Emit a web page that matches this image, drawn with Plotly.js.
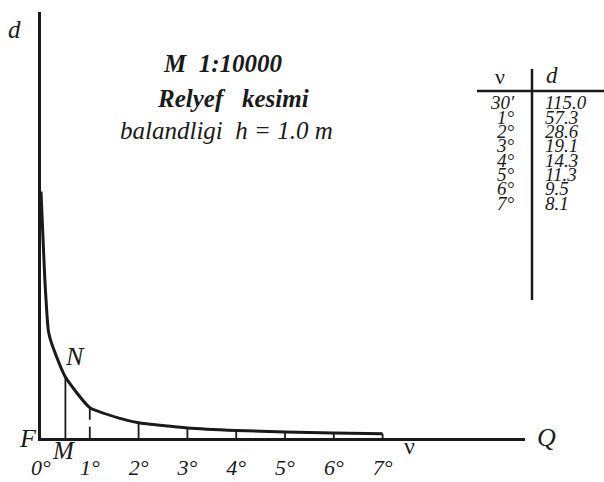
<!DOCTYPE html>
<html>
<head>
<meta charset="utf-8">
<script src="https://cdn.plot.ly/plotly-3.0.1.min.js"></script>
<style>html,body{margin:0;padding:0;background:#fff;}#chart{width:604px;height:482px;}</style>
</head>
<body>
<div id="chart"></div>
<script>
// ---- data ----
// table of inclination angle (nu) vs laying distance d
const tableNuText = ["30′", "1°", "2°", "3°", "4°", "5°", "6°", "7°"];
const tableNuDeg  = [0.5, 1, 2, 3, 4, 5, 6, 7];
const tableD      = [115.0, 57.3, 28.6, 19.1, 14.3, 11.3, 9.5, 8.1];
const tableDText  = ["115.0", "57.3", "28.6", "19.1", "14.3", "11.3", "9.5", "8.1"];
// upper part of the curve (before 30′)
const topNu = [0.0, 0.035, 0.08, 0.15, 0.18, 0.27];
const topD  = [465, 390, 297, 203, 190, 165];
// a point read between 1° and 2°
const midNu = [1.62];
const midD  = [37];
// axis tick labels
const tickVals = [0, 1, 2, 3, 4, 5, 6, 7];
const tickText = ["0°", "1°", "2°", "3°", "4°", "5°", "6°", "7°"];

// ---- build curve ----
const curveNu = [], curveD = [];
topNu.forEach((v, i) => { curveNu.push(v); curveD.push(topD[i]); });
[0, 1].forEach(i => { curveNu.push(tableNuDeg[i]); curveD.push(tableD[i]); });
midNu.forEach((v, i) => { curveNu.push(v); curveD.push(midD[i]); });
for (let i = 2; i < tableNuDeg.length; i++) { curveNu.push(tableNuDeg[i]); curveD.push(tableD[i]); }

// vertical ordinates (solid ones; 1° is dashed)
const vx = [], vy = [];
tableNuDeg.forEach((v, i) => {
  if (v === 1) return;
  vx.push(v, v, null); vy.push(0, tableD[i], null);
});
const dashIdx = tableNuDeg.indexOf(1);

const INK = "#1a1a1a";
const SERIF = "Liberation Serif";

// pixel -> paper helpers for text placement
const L = 41, R = 79, T = 12, B = 44;
const PW = 604 - L - R, PH = 482 - T - B;
const px = x => (x - L) / PW;
const py = y => (482 - B - y) / PH;

const traces = [
  { x: vx, y: vy, mode: "lines", line: { color: INK, width: 1.8 }, hoverinfo: "skip", cliponaxis: false },
  { x: [tableNuDeg[dashIdx], tableNuDeg[dashIdx]], y: [tableD[dashIdx], 0], mode: "lines",
    line: { color: INK, width: 1.8, dash: "12px,7px" }, hoverinfo: "skip", cliponaxis: false },
  { x: curveNu, y: curveD, mode: "lines", line: { color: INK, width: 3, shape: "spline", smoothing: 0.5 },
    hoverinfo: "skip", cliponaxis: false }
];

function ann(x, y, text, size, style, weight, extra) {
  return Object.assign({
    xref: "paper", yref: "paper", x: px(x), y: py(y), text: text, showarrow: false,
    xanchor: "center", yanchor: "middle",
    font: { family: SERIF, size: size, color: INK, style: style || "normal", weight: weight || "normal" }
  }, extra || {});
}

const annotations = [
  ann(223, 64, "M  1:10000", 25, "italic", "bold"),
  ann(233, 98, "Relyef   kesimi", 25, "italic", "bold"),
  ann(226, 130, "balandligi  h = 1.0 m", 25, "italic", "normal"),
  ann(14, 29, "d", 25, "italic"),
  ann(28, 438, "F", 26, "italic"),
  ann(63, 450, "M", 25, "italic"),
  ann(75, 356, "N", 26, "italic"),
  ann(546, 437, "Q", 26, "italic"),
  ann(409, 446, "ν", 24, "normal"),
  ann(500, 77, "ν", 22, "normal"),
  ann(552, 76, "d", 23, "italic")
];
const rowY0 = 103, rowStep = 14.3;
tableNuText.forEach((t, i) => {
  annotations.push(ann(517, rowY0 + i * rowStep, t, 19, "italic", "normal", { xanchor: "right" }));
  annotations.push(ann(543, rowY0 + i * rowStep, tableDText[i], 19, "italic", "normal", { xanchor: "left" }));
});

const shapes = [
  { type: "line", xref: "paper", yref: "paper", x0: px(477), x1: px(604), y0: py(91), y1: py(91),
    line: { color: INK, width: 2.5 } },
  { type: "line", xref: "paper", yref: "paper", x0: px(532), x1: px(532), y0: py(69), y1: py(300),
    line: { color: INK, width: 2.5 } }
];

const layout = {
  width: 604, height: 482,
  margin: { l: L, r: R, t: T, b: B, pad: 0 },
  paper_bgcolor: "#fff", plot_bgcolor: "#fff",
  showlegend: false,
  xaxis: {
    range: [0, PW / 48.8], showgrid: false, zeroline: false,
    showline: true, linecolor: INK, linewidth: 2.5,
    tickmode: "array", tickvals: tickVals, ticktext: tickText, ticks: "",
    ticklabelstandoff: 8,
    tickfont: { family: SERIF, size: 22, color: INK, style: "italic" },
    fixedrange: true
  },
  yaxis: {
    range: [0, PH / 0.53], showgrid: false, zeroline: false,
    showline: true, linecolor: INK, linewidth: 3,
    showticklabels: false, ticks: "", fixedrange: true
  },
  annotations: annotations,
  shapes: shapes
};

Plotly.newPlot("chart", traces, layout, { displayModeBar: false, staticPlot: true });
</script>
</body>
</html>
